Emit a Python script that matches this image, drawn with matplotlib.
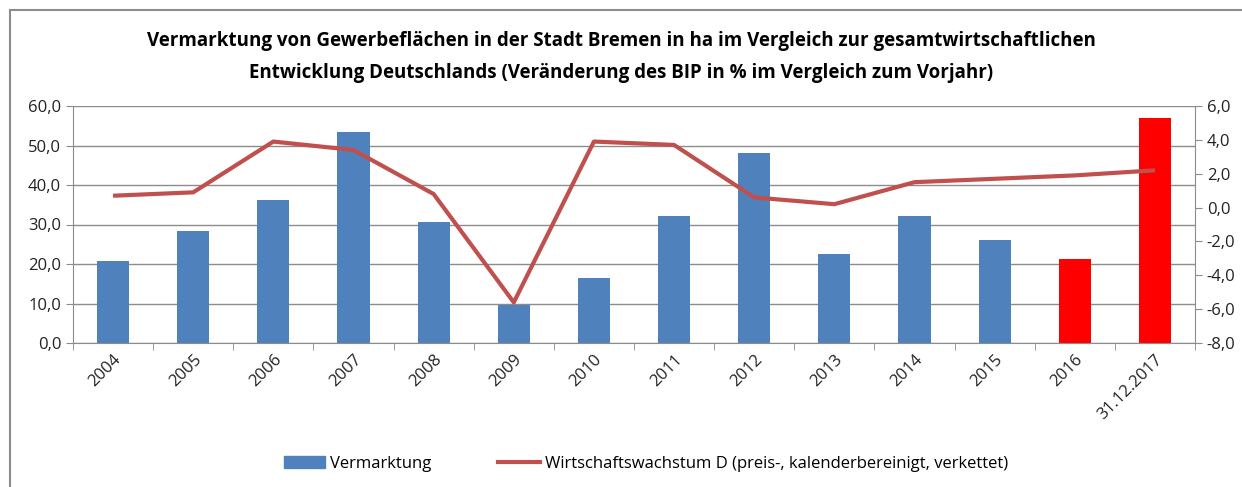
import matplotlib.pyplot as plt
from matplotlib.patches import Rectangle
from matplotlib.lines import Line2D
from matplotlib.patches import Patch

plt.rcParams['font.family'] = ['Open Sans', 'DejaVu Sans']

years = ["2004", "2005", "2006", "2007", "2008", "2009", "2010", "2011",
         "2012", "2013", "2014", "2015", "2016", "31.12.2017"]
vermarktung = [20.8, 28.3, 36.3, 53.4, 30.6, 9.6, 16.5, 32.1, 48.0, 22.5, 32.1, 26.0, 21.3, 57.0]
bip = [0.7, 0.9, 3.9, 3.4, 0.8, -5.6, 3.9, 3.7, 0.6, 0.2, 1.5, 1.7, 1.9, 2.2]
bar_colors = ["#4F81BD"] * 12 + ["#FF0000"] * 2

fig = plt.figure(figsize=(12.42, 4.87), dpi=100)
fig.patches.append(Rectangle((10 / 1242, -0.1), 1.2, 1 - 10 / 487 + 0.1, transform=fig.transFigure,
                             fill=False, edgecolor="#8c8c8c", linewidth=1.5))

ax = fig.add_axes([73 / 1242, 1 - 343 / 487, (1195 - 73) / 1242, (343 - 106) / 487])
x = list(range(len(years)))
ax.bar(x, vermarktung, width=0.4, color=bar_colors, zorder=2)
ax.set_xlim(-0.5, len(years) - 0.5)
ax.set_ylim(0, 60)
ax.set_yticks(range(0, 61, 10))
ax.set_yticklabels([f"{v},0" for v in range(0, 61, 10)], fontsize=12, color="#222222")
ax.grid(axis="y", color="#8c8c8c", linewidth=1, zorder=0)
ax.set_xticks(x)
ax.set_xticklabels(years, rotation=45, ha="right", rotation_mode="anchor", fontsize=12, color="#222222")
ax.tick_params(axis="x", length=0, pad=6)
ax.set_xticks([i - 0.5 for i in range(len(years) + 1)], minor=True)
ax.tick_params(axis="x", which="minor", length=5, color="#8c8c8c", direction="out")
ax.tick_params(axis="y", length=5, color="#8c8c8c", direction="out")
for side in ["top", "right"]:
    ax.spines[side].set_visible(False)
ax.spines["left"].set_color("#8c8c8c")
ax.spines["bottom"].set_color("#8c8c8c")

ax2 = ax.twinx()
ax2.plot(x, bip, color="#C0504D", linewidth=3, solid_capstyle="butt", zorder=3)
ax2.set_ylim(-8, 6)
ax2.set_yticks(range(-8, 7, 2))
ax2.set_yticklabels([f"{v},0" for v in range(-8, 7, 2)], fontsize=12, color="#222222")
ax2.tick_params(axis="y", length=5, color="#8c8c8c", direction="out")
for side in ["top", "left", "bottom"]:
    ax2.spines[side].set_visible(False)
ax2.spines["right"].set_color("#8c8c8c")

fig.text(0.5, 1 - 57 / 487,
         "Vermarktung von Gewerbeflächen in der Stadt Bremen in ha im Vergleich zur gesamtwirtschaftlichen\n"
         "Entwicklung Deutschlands (Veränderung des BIP in % im Vergleich zum Vorjahr)",
         ha="center", va="center", fontsize=13.5, fontweight="bold", linespacing=1.75)

handles = [Patch(color="#4F81BD", label="Vermarktung"),
           Line2D([], [], color="#C0504D", linewidth=3,
                  label="Wirtschaftswachstum D (preis-, kalenderbereinigt, verkettet)")]
fig.legend(handles=handles, loc="center", bbox_to_anchor=(0.52, 1 - 464 / 487), ncol=2,
           frameon=False, fontsize=12, columnspacing=4, handlelength=2.5, handletextpad=0.3)

fig.savefig("out.png", dpi=100)
